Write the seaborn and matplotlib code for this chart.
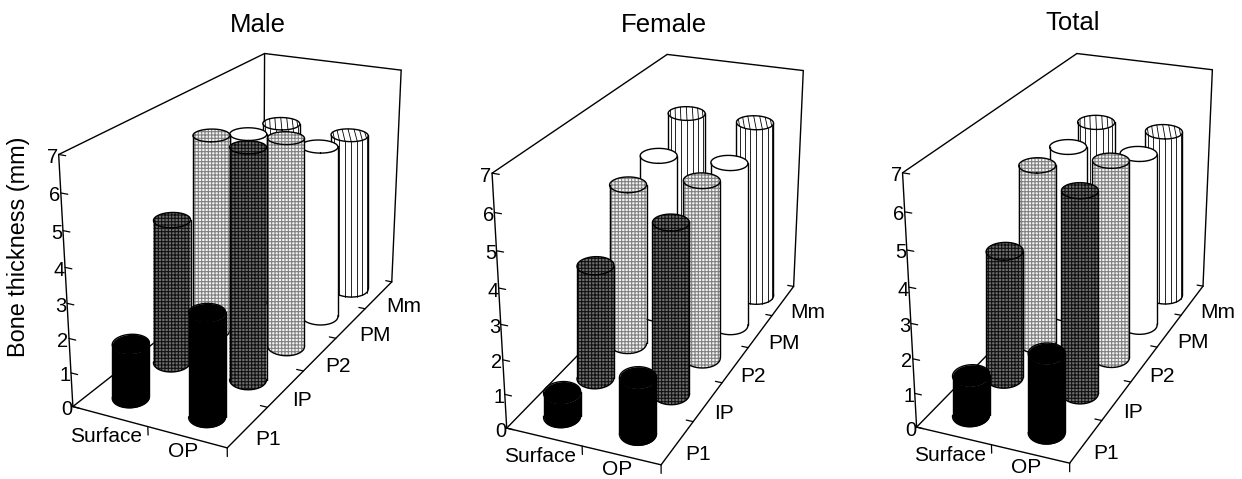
import numpy as np
import matplotlib
matplotlib.use("Agg")
import matplotlib.pyplot as plt
import seaborn as sns
from mpl_toolkits.mplot3d import proj3d
from mpl_toolkits.mplot3d.art3d import Poly3DCollection

sns.set_theme(style="white")
plt.rcParams["font.family"] = ["Liberation Sans", "DejaVu Sans"]
plt.rcParams["hatch.linewidth"] = 0.8

surfaces = ["Surface", "OP"]
regions = ["P1", "IP", "P2", "PM", "Mm"]
z_ticks = [0, 1, 2, 3, 4, 5, 6, 7]

# bone thickness (mm), one list per surface, in the order of regions
male_surface = [1.6, 4.3, 6.05, 5.45, 5.15]
male_op = [3.0, 6.7, 6.3, 5.4, 5.1]
female_surface = [0.72, 3.4, 4.9, 5.0, 5.6]
female_op = [1.65, 5.0, 5.35, 5.1, 5.6]
total_surface = [1.2, 3.8, 5.45, 5.25, 5.3]
total_op = [2.3, 5.85, 5.9, 5.35, 5.3]

# fitted camera for each panel
views = [
    dict(title="Male", surf=male_surface, op=male_op, elev=21.51, azim=-63.18, f=0.494,
         by=2.48, bz=1.521, s=485.2, cx=241.6, cy=233.5, tx=258, ty=25, back=True),
    dict(title="Female", surf=female_surface, op=female_op, elev=24.2, azim=-67.27, f=0.5101,
         by=2.486, bz=1.632, s=477.8, cx=658.0, cy=244.4, tx=664, ty=25, back=False),
    dict(title="Total", surf=total_surface, op=total_op, elev=24.14, azim=-67.24, f=0.5266,
         by=2.502, bz=1.642, s=477.5, cx=1067.2, cy=243.8, tx=1073, ty=23, back=False),
]

# fill, hatch colour, hatch per region
styles = {
    "P1": ("black", "black", None),
    "IP": ("#707070", "#111111", "+++++"),
    "P2": ("#f4f4f4", "#808080", "+++++"),
    "PM": ("white", "white", None),
    "Mm": ("white", "white", None),
}
width_px = 37
squash = 1.15
W, H = 1242, 479


def cylinder(ax, x0, y0, h, region, azim, s, zo):
    fill, hcol, hatch = styles[region]
    a = np.radians(azim)
    toward = np.array([np.cos(a), np.sin(a)])
    perp = np.array([-np.sin(a), np.cos(a)])
    M = ax.get_proj()
    per_unit = s / ax.viewLim.width

    def sx(c, z):
        return proj3d.proj_transform(c[0], c[1], z, M)[0]

    # the cylinders stay upright on the page, the walls of the box do not
    top_c = np.array([x0, y0])
    slope = (sx(top_c + 0.1 * perp, 0) - sx(top_c, 0)) / 0.1
    base_c = top_c + perp * (sx(top_c, h) - sx(top_c, 0)) / slope

    def rad(c, z):
        w = (sx(c + 0.1 * perp, z) - sx(c - 0.1 * perp, z)) * per_unit
        return 0.1 * width_px / w

    r_top, r_base = rad(top_c, h), rad(base_c, 0)

    def ring(c, r, t):
        p = c[:, None] + r * (np.outer(toward, np.cos(t)) * squash + np.outer(perp, np.sin(t)))
        return p[0], p[1]

    t = np.linspace(-np.pi / 2, np.pi / 2, 37)
    full = np.linspace(0, 2 * np.pi, 73)
    bx, by = ring(base_c, r_base, t)
    tx, ty = ring(top_c, r_top, t)
    cx, cy = ring(top_c, r_top, full)

    outline = list(zip(bx, by, np.zeros_like(t))) + list(zip(tx[::-1], ty[::-1], np.full_like(t, h)))
    side = Poly3DCollection([outline], facecolors=fill, edgecolors=hcol, linewidths=0, zorder=zo)
    cap = Poly3DCollection([list(zip(cx, cy, np.full_like(full, h)))], facecolors=fill,
                           edgecolors=hcol, linewidths=0, zorder=zo + 1)
    if hatch:
        side.set_hatch(hatch)
        cap.set_hatch(hatch)
    ax.add_collection3d(side)
    ax.add_collection3d(cap)

    if region == "Mm":
        for d in np.radians([-60, -38, -19, 0, 19, 38, 60]):
            fx, fy = ring(top_c, r_top, np.array([d, np.pi - d]))
            lx, ly = ring(base_c, r_base, np.array([d]))
            ax.plot([lx[0], fx[0]], [ly[0], fy[0]], [0, h], color="black", lw=0.6, zorder=zo + 2)
            ax.plot(fx, fy, [h, h], color="black", lw=0.6, zorder=zo + 2)

    for k in (0, -1):
        ax.plot([bx[k], tx[k]], [by[k], ty[k]], [0, h], color="black", lw=1.0, zorder=zo + 3)
    ax.plot(bx, by, np.zeros_like(t), color="black", lw=1.0, zorder=zo + 3)
    ax.plot(cx, cy, np.full_like(full, h), color="black", lw=1.0, zorder=zo + 3)


def label(ax, text, x, y, z, dx, dy, **kw):
    px, py, _ = proj3d.proj_transform(x, y, z, ax.get_proj())
    ax.annotate(text, (px, py), xytext=(dx, dy), textcoords="offset pixels",
                ha="center", va="center", color="black", annotation_clip=False, **kw)


fig = plt.figure(figsize=(W / 100, H / 100), dpi=100)

for v in views:
    s = v["s"]
    ax = fig.add_axes([(v["cx"] - s / 2) / W, (H - v["cy"] - s / 2) / H, s / W, s / H],
                      projection="3d")
    ax.set_xlim(0, 2)
    ax.set_ylim(0, 5)
    ax.set_zlim(0, 7)
    ax.view_init(v["elev"], v["azim"])
    ax.set_proj_type("persp", focal_length=v["f"])
    ax.set_box_aspect((1, v["by"], v["bz"]))
    ax.set_axis_off()
    ax.patch.set_visible(False)
    ax.computed_zorder = False

    # box frame
    edges = [((0, 2), (0, 0), (0, 0)), ((2, 2), (0, 5), (0, 0)), ((0, 0), (0, 5), (0, 0)),
             ((0, 0), (0, 0), (0, 7)), ((0, 0), (0, 5), (7, 7)), ((0, 2), (5, 5), (7, 7)),
             ((2, 2), (5, 5), (0, 7))]
    if v["back"]:
        edges.append(((0, 0), (5, 5), (0, 7)))
    for ex, ey, ez in edges:
        ax.plot(ex, ey, ez, color="black", lw=1.0, zorder=1)

    for z in z_ticks:
        ax.plot([0, 0.09], [0, 0], [z, z], color="black", lw=0.9, zorder=1)
        label(ax, str(z), 0, 0, z, -6, -3, fontsize=14.5)
    for y in range(1, 6):
        ax.plot([2, 1.91], [y, y], [0, 0], color="black", lw=0.9, zorder=1)
    for x in (1, 2):
        ax.plot([x, x], [0, 0], [0, -0.25], color="black", lw=0.9, zorder=1)

    for i, name in enumerate(surfaces):
        label(ax, name, i + 0.5, 0, 0, -4, -20 if i == 0 else -14, fontsize=15)
    for j, (name, dx) in enumerate(zip(regions, [20, 16, 18, 24, 25])):
        label(ax, name, 2, j + 0.5, 0, dx, -12, fontsize=15)

    # back rows first so that nearer cylinders overlap them
    zo = 10
    for j in range(len(regions) - 1, -1, -1):
        for i, vals in enumerate((v["surf"], v["op"])):
            cylinder(ax, i + 0.5, j + 0.5, vals[j], regions[j], v["azim"], s, zo)
            zo += 5

    fig.text(v["tx"] / W, 1 - v["ty"] / H, v["title"], ha="center", va="center",
             fontsize=18.5, color="black")

fig.text(19 / W, 1 - 247 / H, "Bone thickness (mm)", rotation=90, ha="center", va="center",
         fontsize=16.9, color="black")

fig.savefig("out.png", dpi=100)
